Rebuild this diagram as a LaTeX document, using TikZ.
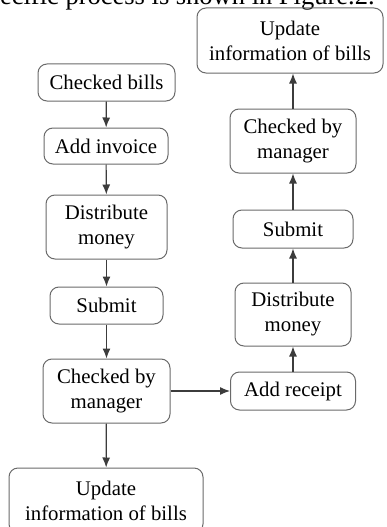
\documentclass[tikz,border=0pt]{standalone}
\usepackage{fontspec}
\setmainfont{Liberation Serif}
\usetikzlibrary{arrows.meta}
\definecolor{boxgray}{HTML}{6A6A6A}
\definecolor{arrowgray}{HTML}{3C3C3C}

\begin{document}
\begin{tikzpicture}[x=1pt, y=-1pt, line width=1pt,
    stage/.style={draw=boxgray, rounded corners=9pt, align=center, inner sep=0pt,
        font=\fontsize{20.8}{25}\selectfont},
    flow/.style={draw=arrowgray, line width=1.2pt, -{Latex[length=10pt,width=8pt]}}]
    \useasboundingbox (0,0) rectangle (386,527);
    \clip (0,0) rectangle (386,527);

    % cut-off sentence above the figure
    \node [anchor=base west, inner sep=0pt, font=\fontsize{26.5}{30}\selectfont] (caption) at (-24,5)
        {specific process is shown in Figure.2.};

    % left column
    \node [stage, minimum width=137pt, minimum height=37pt] (billsL) at (106.5,82.5) {Checked bills};
    \node [stage, minimum width=124pt, minimum height=36pt] (invoiceL) at (106,146) {Add invoice};
    \node [stage, minimum width=121pt, minimum height=64pt] (moneyL) at (106.5,227) {Distribute\\money};
    \node [stage, minimum width=113pt, minimum height=37pt] (submitL) at (106.5,305.5) {Submit};
    \node [stage, minimum width=127pt, minimum height=64pt] (managerL) at (106.5,391) {Checked by\\manager};
    \node [stage, minimum width=194pt, minimum height=65pt] (updateL) at (106,500.5) {Update\\information of bills};

    % right column
    \node [stage, minimum width=125pt, minimum height=38pt] (receiptR) at (293,391) {Add receipt};
    \node [stage, minimum width=116pt, minimum height=63pt] (moneyR) at (293,314.5) {Distribute\\money};
    \node [stage, minimum width=120pt, minimum height=38pt] (submitR) at (293,229) {Submit};
    \node [stage, minimum width=126pt, minimum height=64pt] (managerR) at (293,141) {Checked by\\manager};
    \node [stage, minimum width=186pt, minimum height=65pt] (updateR) at (290,40.5) {Update\\information of bills};

    \draw [flow] (billsL) -- (invoiceL);
    \draw [flow] (invoiceL) -- (moneyL);
    \draw [flow] (moneyL) -- (submitL);
    \draw [flow] (submitL) -- (managerL);
    \draw [flow] (managerL) -- (updateL);
    \draw [flow] (managerL) -- (receiptR);
    \draw [flow] (receiptR) -- (moneyR);
    \draw [flow] (moneyR) -- (submitR);
    \draw [flow] (submitR) -- (managerR);
    \draw [flow] (managerR.north) -- (managerR.north |- updateR.south);
\end{tikzpicture}
\end{document}
